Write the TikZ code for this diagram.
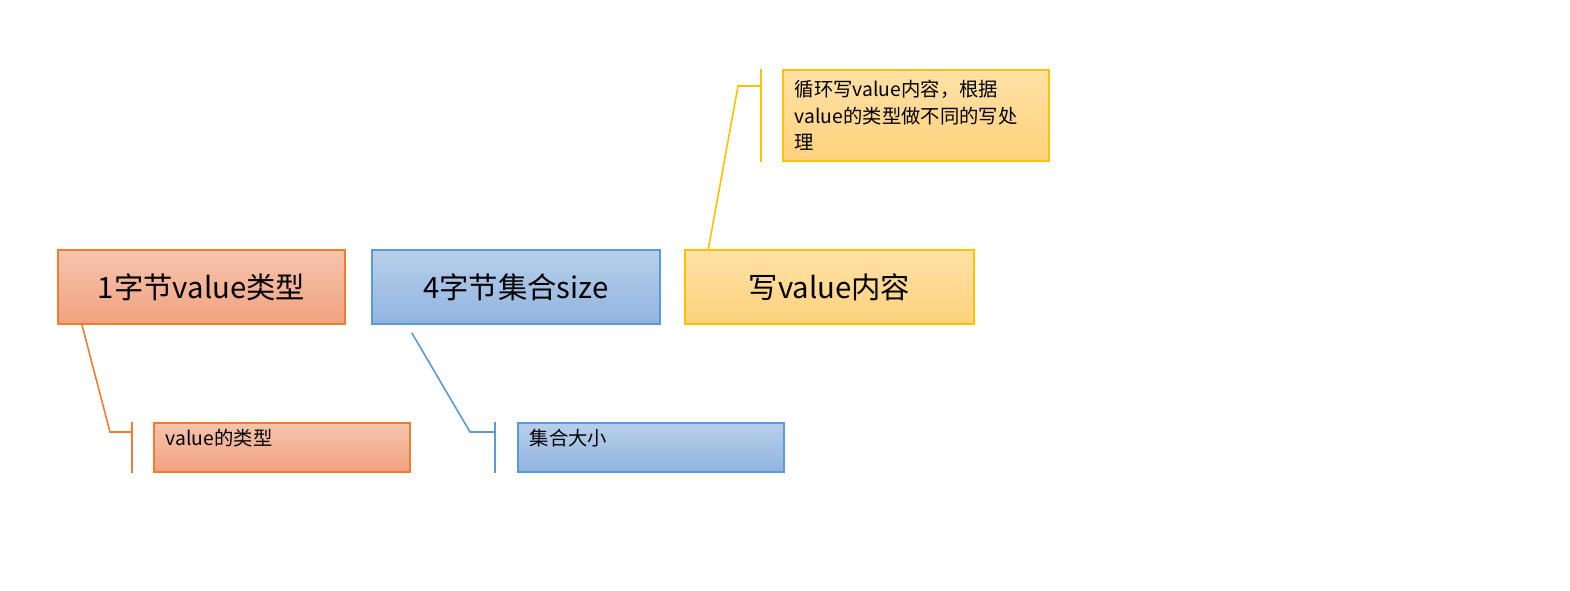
\documentclass[tikz,border=0pt]{standalone}
\usepackage{fontspec}
\setmainfont{Noto Sans CJK SC}
\usetikzlibrary{calc}
\definecolor{typeline}{HTML}{ED7D31}
\definecolor{typetop}{HTML}{F6C4AD}
\definecolor{typebot}{HTML}{F1A27F}
\definecolor{sizeline}{HTML}{5B9BD5}
\definecolor{sizetop}{HTML}{B8CFEB}
\definecolor{sizebot}{HTML}{90B4DF}
\definecolor{valline}{HTML}{FFC000}
\definecolor{valtop}{HTML}{FFE1A6}
\definecolor{valbot}{HTML}{FFD27C}
\tikzset{
  field/.style={draw, line width=1.3pt, minimum width=216.5pt, minimum height=55.5pt,
    font=\fontsize{22}{26}\selectfont},
  note/.style={draw, line width=1.3pt, anchor=north west, inner xsep=9pt, align=left,
    font=\fontsize{14.5}{20}\selectfont},
  shortnote/.style={note, text height=14pt, text depth=17pt, inner ysep=3pt},
  lead/.style={line width=1.2pt},
  typecol/.style={draw=typeline, top color=typetop, bottom color=typebot},
  sizecol/.style={draw=sizeline, top color=sizetop, bottom color=sizebot},
  valcol/.style={draw=valline, top color=valtop, bottom color=valbot},
}
\begin{document}
\begin{tikzpicture}[x=0.75pt, y=-0.75pt]
\useasboundingbox[fill=white] (0,0) rectangle (1570,590);

% the three fields
\node[field, typecol, minimum width=215.5pt] (type) at (201.5,287) {1字节value类型};
\node[field, sizecol] (size) at (516,287) {4字节集合size};
\node[field, valcol] (content) at (829.5,287) {写value内容};

% notes
\node[shortnote, typecol, text width=174pt] (note1) at (153,422) {value的类型};
\node[shortnote, sizecol, text width=181.5pt] (note2) at (517,422) {集合大小};
\node[note, valcol, text width=181.5pt, minimum height=68.25pt] (note3) at (782,69)
  {循环写value内容，根据\\value的类型做不同的写处\\理};

% leaders
\draw[typeline, lead] ($(type.south west)+(25,0)$) -- ($(note1.north west)+(-43,10)$)
  -- ($(note1.north west)+(-21,10)$);
\draw[typeline, lead] ($(note1.north west)+(-21,0)$) -- ($(note1.south west)+(-21,0)$);
\draw[sizeline, lead] ($(size.south west)+(41,8)$) -- ($(note2.north west)+(-47,10)$)
  -- ($(note2.north west)+(-22,10)$);
\draw[sizeline, lead] ($(note2.north west)+(-22,0)$) -- ($(note2.south west)+(-22,0)$);
\draw[valline, lead] ($(content.north west)+(24,0)$) -- ($(note3.north west)+(-44,17)$)
  -- ($(note3.north west)+(-21,17)$);
\draw[valline, lead] ($(note3.north west)+(-21,0)$) -- ($(note3.south west)+(-21,0)$);
\end{tikzpicture}
\end{document}
